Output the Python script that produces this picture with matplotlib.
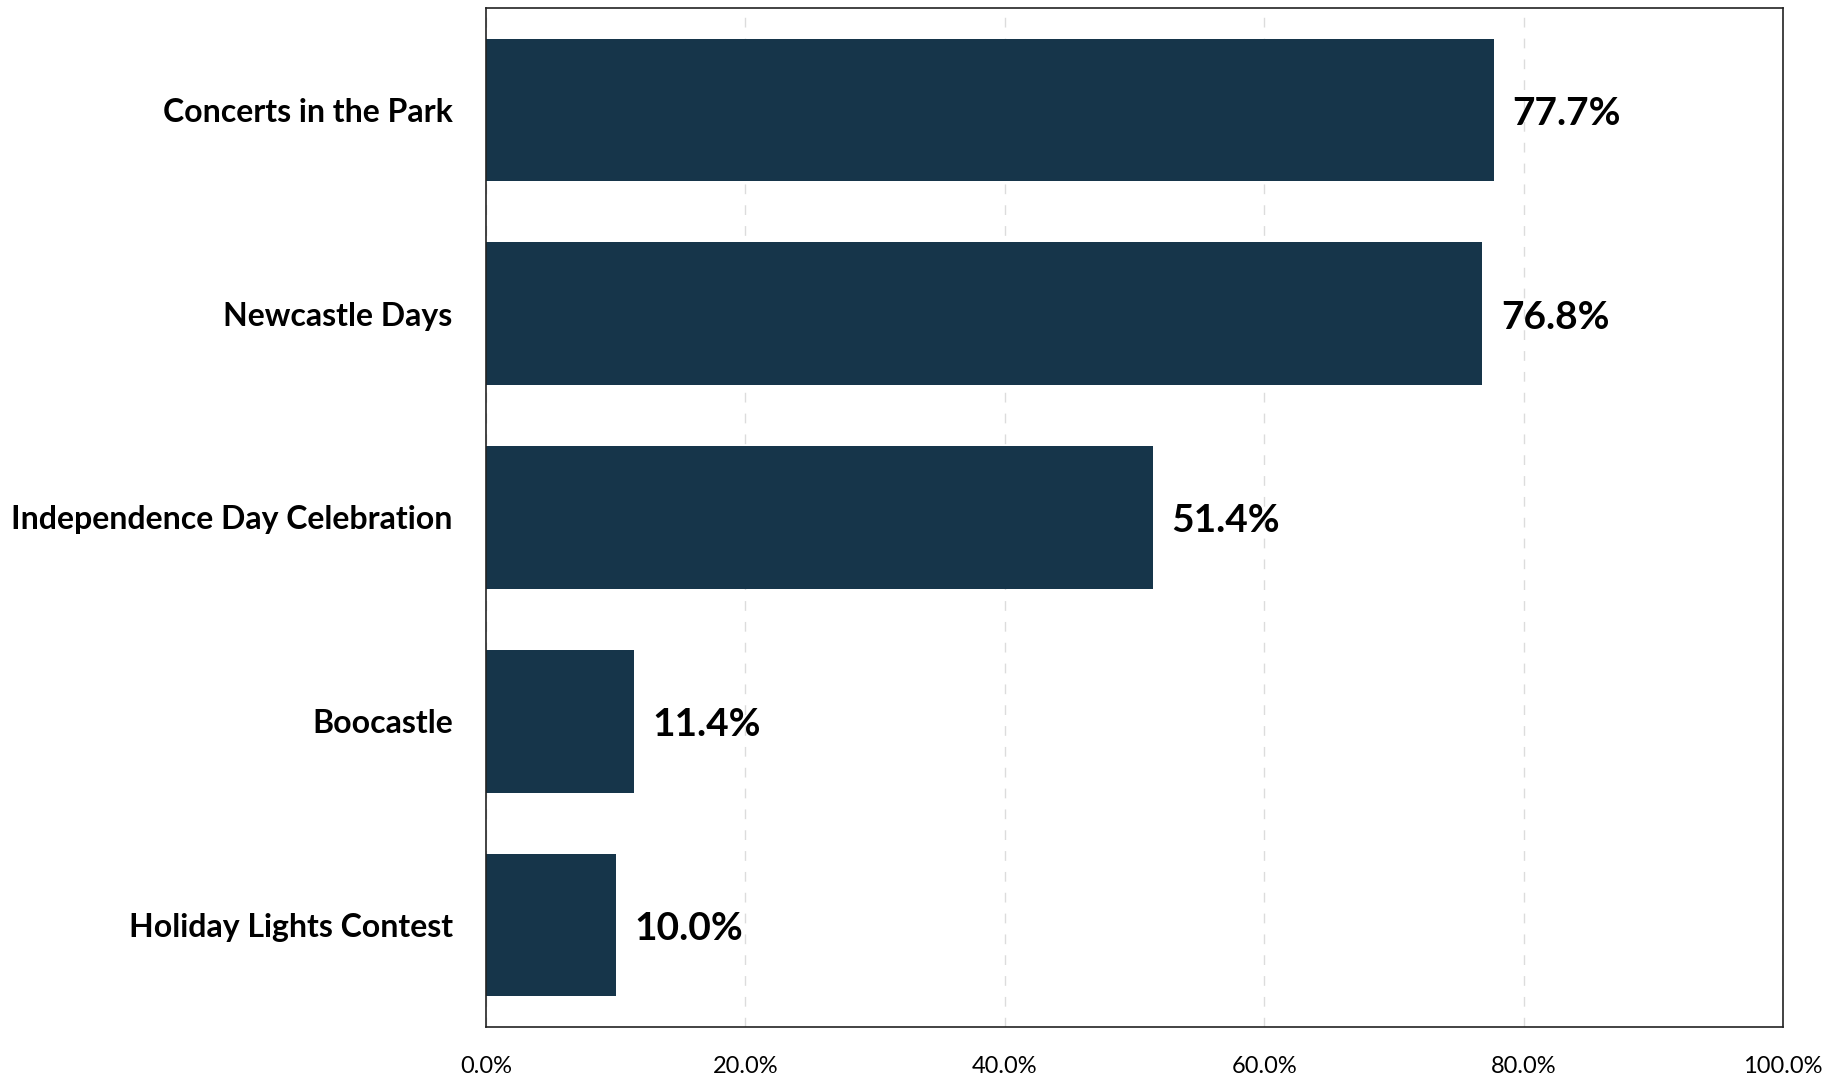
import matplotlib.pyplot as plt
from matplotlib.ticker import FuncFormatter

events = ['Concerts in the Park', 'Newcastle Days', 'Independence Day Celebration',
          'Boocastle', 'Holiday Lights Contest']
shares = [77.7, 76.8, 51.4, 11.4, 10.0]
xticks = [0, 20, 40, 60, 80, 100]

bar_color = '#16354a'

plt.rcParams['font.family'] = ['Lato', 'DejaVu Sans']

fig = plt.figure(figsize=(18.45, 10.76), dpi=100)
ax = fig.add_axes([486/1845, 49/1076, 1297/1845, 1019/1076])

ypos = list(range(len(events)))
bars = ax.barh(ypos, shares, height=0.7, color=bar_color, zorder=2)

# value labels just past the end of each bar
for b, v in zip(bars, shares):
    ax.text(b.get_width() + 1.45, b.get_y() + b.get_height()/2 + 0.017, f'{v:.1f}%',
            va='center', ha='left', fontsize=28, fontweight='bold', color='black')

ax.set_xlim(0, 100)
ax.set_ylim(len(events) - 0.5, -0.5)
ax.set_yticks(ypos)
ax.set_yticklabels(events, fontsize=23, fontweight='bold')
ax.set_xticks(xticks)
ax.xaxis.set_major_formatter(FuncFormatter(lambda x, p: f'{x:.1f}%'))
ax.tick_params(axis='x', length=0, pad=21, labelsize=17)
ax.tick_params(axis='y', length=0, pad=24)

ax.grid(axis='x', color='#dcdcdc', linestyle=(0, (7, 8)), linewidth=1, zorder=0)
ax.set_axisbelow(True)
for s in ax.spines.values():
    s.set_color('#222222')
    s.set_linewidth(1.2)

fig.savefig('out.png', dpi=100)
